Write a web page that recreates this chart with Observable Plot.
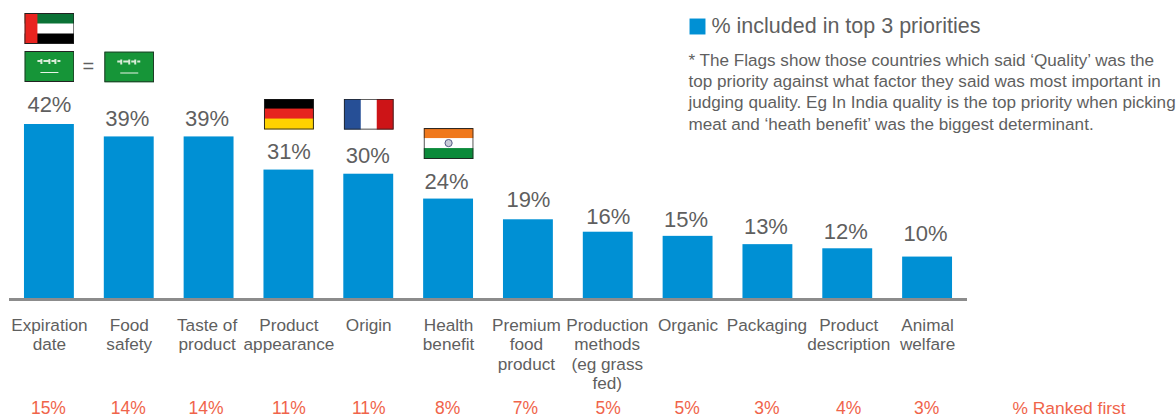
<!DOCTYPE html>
<html>
<head>
<meta charset="utf-8">
<script src="https://cdn.jsdelivr.net/npm/d3@7"></script>
<script src="https://cdn.jsdelivr.net/npm/@observablehq/plot@0.6"></script>
<style>
  html, body { margin: 0; padding: 0; background: #fff; overflow: hidden; }
  svg { display: block; }
</style>
</head>
<body>
<script>
const categories = ["Expiration\ndate", "Food\nsafety", "Taste of\nproduct", "Product\nappearance", "Origin", "Health\nbenefit", "Premium\nfood\nproduct", "Production\nmethods\n(eg grass\nfed)", "Organic", "Packaging", "Product\ndescription", "Animal\nwelfare"];
const top3 = [42, 39, 39, 31, 30, 24, 19, 16, 15, 13, 12, 10];
const rankedFirst = [15, 14, 14, 11, 11, 8, 7, 5, 5, 3, 4, 3];
const legendLabel = "% included in top 3 priorities";
const rankedLabel = "% Ranked first";
const noteLines = [
  "* The Flags show those countries which said ‘Quality’ was the",
  "top priority against what factor they said was most important in",
  "judging quality. Eg In India quality is the top priority when picking",
  "meat and ‘heath benefit’ was the biggest determinant."
];
const flagCountries = ["uae", "saudi", "saudi", "germany", "france", "india"];
const flagBars = [0, 0, 1, 3, 4, 5];
const flagLift = [96, 58, 70, 56, 60, 55.5];
// hand-placed label nudges of the original layout
const valueLift = [20, 18.4, 18.4, 18.6, 18.7, 17.6, 20.3, 15.7, 16.9, 17.2, 17.3, 23.6];
const valueShift = [0, -2, -2, 0, -1, -2, 0, 0, -2, -2, -2, -2];
const nameShift = [0, 0, -2, 0, 0, 0, -2, -1, 0, -1, 1, 0];
const rankShift = [-1, -1, -3, 0, 0, -1, -3, 0, -1, -1, 1, -1];

const barColor = "#0090d4", grey = "#5f5f5f", red = "#f0644a", font = "'Liberation Sans', Arial, sans-serif";

const wrap = inner => "data:image/svg+xml," + encodeURIComponent(
  `<svg xmlns="http://www.w3.org/2000/svg" width="50" height="31" viewBox="0 0 50 31">${inner}<rect x=".5" y=".5" width="49" height="30" fill="none" stroke="#222"/></svg>`);
const flagArt = {
  uae: wrap(`<rect width="50" height="31" fill="#fff"/><rect width="50" height="10.5" fill="#0b7236"/><rect y="20.5" width="50" height="10.5" fill="#000"/><rect width="13" height="31" fill="#e8241f"/>`),
  saudi: wrap(`<rect width="50" height="31" fill="#169538"/><path d="M13 10h3M17 8v5M19 10h5M25 8v5M27 10h3M31 8v5M33 10h3" stroke="#d8ecd8" stroke-width="2" fill="none"/><path d="M16 21.5h18" stroke="#e8f4e8" stroke-width="1"/>`),
  germany: wrap(`<rect width="50" height="31" fill="#000"/><rect y="10" width="50" height="11" fill="#e6241f"/><rect y="20" width="50" height="11" fill="#ffd200"/>`),
  france: wrap(`<rect width="50" height="31" fill="#fff"/><rect width="17" height="31" fill="#264f96"/><rect x="33" width="17" height="31" fill="#cd1417"/>`),
  india: wrap(`<rect width="50" height="31" fill="#fff"/><rect width="50" height="10" fill="#f0781c"/><rect y="20" width="50" height="11" fill="#0b8a3a"/><circle cx="25" cy="15" r="3.6" fill="#c9cbd8" stroke="#555a85"/>`)
};

const bars = categories.map((c, i) => ({c, v: top3[i], r: rankedFirst[i], i}));
const flags = flagCountries.map((k, i) => ({k, c: categories[flagBars[i]], v: top3[flagBars[i]], lift: flagLift[i]}));

const chart = Plot.plot({
  width: 1176,
  height: 418,
  marginLeft: 9,
  marginRight: 209,
  marginTop: 0,
  marginBottom: 0,
  style: {fontFamily: font, background: "#fff"},
  x: {domain: categories, paddingInner: 0.375, paddingOuter: 0.1875, round: false, axis: null, align: 0.5},
  y: {domain: [0, 42], range: [298, 124], axis: null},
  marks: [
    Plot.barY(bars, {x: "c", y: "v", fill: barColor}),
    Plot.ruleY([0], {stroke: "#8c8c8c", strokeWidth: 3, dy: 1}),
    ...bars.map(b => Plot.text([b], {x: "c", y: "v", text: d => d.v + "%", dx: valueShift[b.i], dy: -valueLift[b.i], fontSize: 22, fill: grey})),
    ...bars.map(b => Plot.text([b], {x: "c", frameAnchor: "top", dx: nameShift[b.i], dy: 317, lineAnchor: "top", lineHeight: 1.12, text: "c", fontSize: 17.2, fill: grey})),
    ...bars.map(b => Plot.text([b], {x: "c", frameAnchor: "top", dx: rankShift[b.i], dy: 401, lineAnchor: "top", text: d => d.r + "%", fontSize: 17.5, fill: red})),
    ...flags.map(f => Plot.image([f], {x: "c", y: "v", dy: -f.lift, src: flagArt[f.k], width: 50, height: 31, preserveAspectRatio: "none"})),
    Plot.text(["="], {frameAnchor: "top-left", dx: 73, dy: 58, text: d => d, fontSize: 20, fill: grey, textAnchor: "start"}),
    Plot.text([rankedLabel], {frameAnchor: "top-left", dx: 1003, dy: 401, lineAnchor: "top", textAnchor: "start", text: d => d, fontSize: 17.4, fill: red}),
    Plot.dot([legendLabel], {frameAnchor: "top-left", dx: 688, dy: 26, symbol: "square", r: 9, fill: barColor}),
    Plot.text([legendLabel], {frameAnchor: "top-left", dx: 702, dy: 17, lineAnchor: "top", textAnchor: "start", text: d => d, fontSize: 21.5, fill: grey}),
    ...noteLines.map((t, i) => Plot.text([t], {frameAnchor: "top-left", dx: 679, dy: 53 + i * 21.3, lineAnchor: "top", textAnchor: "start", text: d => d, fontSize: 17.1, fill: grey}))
  ]
});
document.body.appendChild(chart);
</script>
</body>
</html>
